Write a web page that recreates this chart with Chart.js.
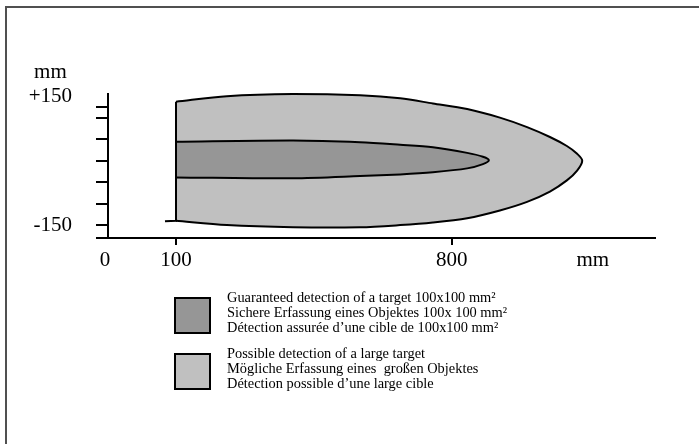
<!DOCTYPE html>
<html>
<head>
<meta charset="utf-8">
<script src="https://cdn.jsdelivr.net/npm/chart.js@4.4.1/dist/chart.umd.min.js"></script>
<style>
  html, body { margin: 0; padding: 0; background: #fff; }
  #wrap { position: relative; width: 699px; height: 444px; overflow: hidden; font-family: 'Liberation Serif', 'Times New Roman', serif; }
  #frame { position: absolute; left: 5px; top: 6px; width: 800px; height: 600px; border-left: 2px solid #505050; border-top: 2px solid #505050; }
  #plot { position: absolute; left: 0; top: 0; width: 699px; height: 444px; }
  .key { position: absolute; left: 174px; width: 33px; height: 33px; border: 2px solid #000; }
  .keytext { position: absolute; left: 227px; font-size: 14.4px; line-height: 15px; color: #000; white-space: pre; }
</style>
</head>
<body>
<div id="wrap">
  <div id="frame"></div>
  <div id="plot"><canvas id="zoneChart"></canvas></div>
  <div id="legend"></div>
</div>
<script>
// axis ticks (mm); the x axis is broken between 0 and 100
const xTickValues = [-80, 100, 800, 1158];
const xTickLabels = ['0', '100', '800', 'mm'];
const xMarkValues = [100, 800];
const yTickValues = [205, 150, 125, 100, 50, 0, -50, -100, -150, -180];
const yTickLabels = ['mm\u00a0', '+150', '', '', '', '', '', '', '-150', ''];
const yMarkValues = [125, 100, 50, 0, -50, -100, -150, -180];

// possible detection zone outline (x mm, y mm)
const outerX = [100, 229, 397, 567, 669, 752, 839, 922, 991, 1049, 1092, 1118, 1131, 1118, 1092, 1049, 991, 922, 839, 752, 669, 567, 397, 229, 100];
const outerY = [137, 150, 155, 152, 145, 133, 120, 100, 78, 55, 34, 16, 0, -23, -46, -72, -96, -116, -134, -144, -150, -155, -155, -150, -140];

// guaranteed detection zone outline
const innerX = [100, 397, 567, 669, 752, 839, 879, 894, 879, 839, 752, 669, 567, 397, 100];
const innerY = [44, 47, 43, 37, 31, 18, 9, 1, -8, -18, -27, -32, -36, -41, -39];

// start of the zone (left edge)
const edgeX = [100, 100, 72];
const edgeY = [137, -140, -141];

const zoneColors = ['#969696', '#c0c0c0'];
const legendLines = [
  ['Guaranteed detection of a target 100x100 mm²', 'Sichere Erfassung eines Objektes 100x 100 mm²', 'Détection assurée d’une cible de 100x100 mm²'],
  ['Possible detection of a large target', 'Mögliche Erfassung eines  großen Objektes', 'Détection possible d’une large cible']
];

const pts = (xs, ys) => xs.map((x, i) => ({ x: x, y: ys[i] }));
const serif = "'Liberation Serif', 'Times New Roman', serif";

new Chart(document.getElementById('zoneChart'), {
  type: 'scatter',
  data: {
    datasets: [
      { data: pts(edgeX, edgeY), showLine: true, fill: false, borderColor: '#000', borderWidth: 2, tension: 0, pointRadius: 0, clip: 6 },
      { data: pts(innerX, innerY), showLine: true, fill: 'shape', backgroundColor: zoneColors[0], borderColor: '#000', borderWidth: 2, tension: 0.3, pointRadius: 0, clip: 6 },
      { data: pts(outerX, outerY), showLine: true, fill: 'shape', backgroundColor: zoneColors[1], borderColor: '#000', borderWidth: 2, tension: 0.3, pointRadius: 0, clip: 6 }
    ]
  },
  options: {
    responsive: true,
    maintainAspectRatio: false,
    animation: false,
    events: [],
    layout: { padding: { left: 27, top: 94, right: 44, bottom: 0 } },
    plugins: { legend: { display: false }, tooltip: { enabled: false } },
    scales: {
      x: {
        type: 'linear', min: -72.6, max: 1315.7,
        afterFit: s => { s.height = 206; },
        afterBuildTicks: s => { s.ticks = xTickValues.map(v => ({ value: v })); },
        border: { display: true, color: '#000', width: 2 },
        grid: {
          drawOnChartArea: false, drawTicks: true, tickLength: 7, lineWidth: 2,
          color: c => (c.tick && xMarkValues.includes(c.tick.value)) ? '#000' : 'rgba(0,0,0,0)'
        },
        ticks: {
          autoSkip: false, maxRotation: 0, padding: 3, color: '#000',
          font: { family: serif, size: 21 },
          callback: (v, i) => xTickLabels[i]
        }
      },
      y: {
        type: 'linear', min: -180, max: 155,
        afterFit: s => { s.width = 81; },
        afterBuildTicks: s => { s.ticks = yTickValues.map(v => ({ value: v })); },
        border: { display: true, color: '#000', width: 2 },
        grid: {
          drawOnChartArea: false, drawTicks: true, tickLength: 12, lineWidth: 2,
          color: c => (c.tick && yMarkValues.includes(c.tick.value)) ? '#000' : 'rgba(0,0,0,0)'
        },
        ticks: {
          autoSkip: false, padding: 24, color: '#000',
          font: { family: serif, size: 21 },
          callback: (v, i) => yTickLabels[i]
        }
      }
    }
  }
});

// legend below the plot
const legend = document.getElementById('legend');
const keyTops = [297, 353];
legendLines.forEach((lines, k) => {
  const box = document.createElement('div');
  box.className = 'key';
  box.style.top = keyTops[k] + 'px';
  box.style.background = zoneColors[k];
  legend.appendChild(box);
  const txt = document.createElement('div');
  txt.className = 'keytext';
  txt.style.top = (keyTops[k] - 7.5) + 'px';
  txt.textContent = lines.join('\n');
  legend.appendChild(txt);
});
</script>
</body>
</html>
